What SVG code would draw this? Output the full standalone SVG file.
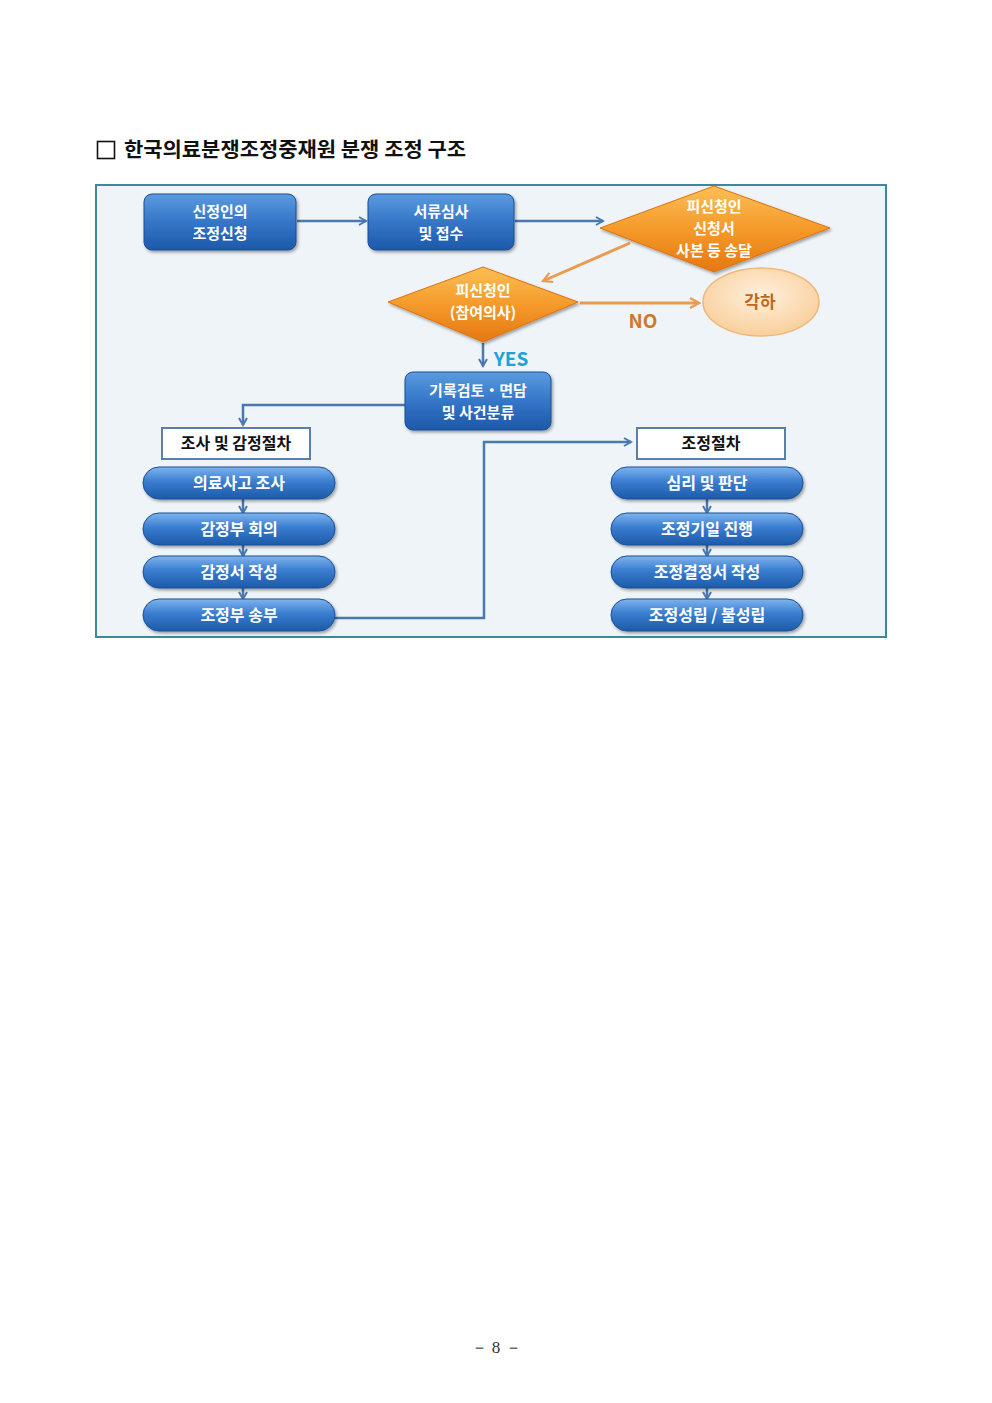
<svg xmlns="http://www.w3.org/2000/svg" width="992" height="1403" viewBox="0 0 992 1403">
<defs>
<linearGradient id="gBox" x1="0" y1="0" x2="0" y2="1">
<stop offset="0" stop-color="#5b9be0"/><stop offset="0.5" stop-color="#3576c8"/><stop offset="1" stop-color="#1d58a8"/>
</linearGradient>
<linearGradient id="gPill" x1="0" y1="0" x2="0" y2="1">
<stop offset="0" stop-color="#7fb4ee"/><stop offset="0.45" stop-color="#3a7dd0"/><stop offset="1" stop-color="#1d5aa8"/>
</linearGradient>
<linearGradient id="gDia" x1="0" y1="0" x2="0" y2="1">
<stop offset="0" stop-color="#fbbf55"/><stop offset="0.5" stop-color="#f59a2a"/><stop offset="1" stop-color="#e57812"/>
</linearGradient>
<radialGradient id="gEll" cx="0.5" cy="0.4" r="0.6">
<stop offset="0" stop-color="#fff0dc"/><stop offset="1" stop-color="#f9cf9c"/>
</radialGradient>
<marker id="aBlue" markerWidth="10" markerHeight="10" refX="8" refY="5" orient="auto" markerUnits="userSpaceOnUse">
<path d="M1,1 L8,5 L1,9" fill="none" stroke="#4a78b0" stroke-width="2"/>
</marker>
<marker id="aOr" markerWidth="12" markerHeight="12" refX="10" refY="6" orient="auto" markerUnits="userSpaceOnUse">
<path d="M1,1 L10,6 L1,11" fill="none" stroke="#eb9a50" stroke-width="2.2"/>
</marker>
<filter id="sh" x="-10%" y="-10%" width="130%" height="140%">
<feDropShadow dx="1.5" dy="2" stdDeviation="1.5" flood-color="#000" flood-opacity="0.35"/>
</filter>
</defs>
<style>
.t{font-family:"Noto Sans CJK KR","Noto Sans",sans-serif;font-weight:bold;text-anchor:middle;}
.w{fill:#fff;font-size:16px;}
.m{fill:#fff;font-size:15px;}
.k{fill:#111;font-size:16px;}
.box{fill:url(#gBox);stroke:#1b4f95;stroke-width:1;filter:url(#sh);}
.pill{fill:url(#gPill);stroke:#1b4f95;stroke-width:1;filter:url(#sh);}
.dia{fill:url(#gDia);stroke:#e07010;stroke-width:1;filter:url(#sh);}
.lbl{fill:#fff;stroke:#5b7fa6;stroke-width:2;}
.cb{fill:none;stroke:#4a78b0;stroke-width:2.5;}
.co{fill:none;stroke:#eb9a50;stroke-width:3;}
</style>
<rect width="992" height="1403" fill="#fff"/>
<g id="title">
<rect x="97.5" y="141.5" width="17" height="17" fill="none" stroke="#111" stroke-width="1.6"/>
<text x="124" y="157" font-family="Noto Sans CJK KR, sans-serif" font-weight="bold" font-size="20" fill="#111" textLength="342" lengthAdjust="spacingAndGlyphs">한국의료분쟁조정중재원 분쟁 조정 구조</text>
</g>
<rect id="frame" x="96" y="185" width="790" height="452" fill="#eef4f8" stroke="#3a8a9a" stroke-width="2"/>
<g id="connectors">
<path class="cb" d="M297,221 H366" marker-end="url(#aBlue)"/>
<path class="cb" d="M515,221 H603" marker-end="url(#aBlue)"/>
<path class="co" d="M630,243 L543,281" marker-end="url(#aOr)"/>
<path class="co" d="M580,303 H699" marker-end="url(#aOr)"/>
<path class="cb" d="M483,343 V366" marker-end="url(#aBlue)"/>
<path class="cb" d="M405,405 H243 V425" marker-end="url(#aBlue)"/>
<path class="cb" d="M243,499 V513" marker-end="url(#aBlue)"/>
<path class="cb" d="M243,545 V556" marker-end="url(#aBlue)"/>
<path class="cb" d="M243,588 V599" marker-end="url(#aBlue)"/>
<path class="cb" d="M335,618 H484 V442 H631" marker-end="url(#aBlue)"/>
<path class="cb" d="M707,499 V513" marker-end="url(#aBlue)"/>
<path class="cb" d="M707,545 V556" marker-end="url(#aBlue)"/>
<path class="cb" d="M707,588 V599" marker-end="url(#aBlue)"/>
<text x="643" y="328" font-family="Noto Sans CJK KR, sans-serif" font-weight="bold" font-size="19" fill="#cc7a2a" text-anchor="middle">NO</text>
<text x="511" y="366" font-family="Noto Sans CJK KR, sans-serif" font-weight="bold" font-size="19" fill="#1ba3d8" text-anchor="middle">YES</text>
</g>
<g id="n1"><rect class="box" x="144" y="194" width="152" height="56" rx="8"/>
<text class="t m" x="220" y="217">신정인의</text><text class="t m" x="220" y="239">조정신청</text></g>
<g id="n2"><rect class="box" x="368" y="194" width="146" height="56" rx="8"/>
<text class="t m" x="441" y="217">서류심사</text><text class="t m" x="441" y="239">및 접수</text></g>
<g id="n3"><polygon class="dia" points="600,228 714,186 830,228 714,272"/>
<text class="t m" x="714" y="212">피신청인</text><text class="t m" x="714" y="234">신청서</text><text class="t m" x="714" y="256">사본 등 송달</text></g>
<g id="n4"><polygon class="dia" points="388,302 483,267 578,302 483,342"/>
<text class="t m" x="483" y="296">피신청인</text><text class="t m" x="483" y="318">(참여의사)</text></g>
<g id="n5"><ellipse cx="761" cy="302" rx="58" ry="34" fill="url(#gEll)" stroke="#f0b878" stroke-width="1.5"/>
<text class="t" x="760" y="308" font-size="17" fill="#c2661c">각하</text></g>
<g id="n6"><rect class="box" x="405" y="372" width="146" height="58" rx="8"/>
<text class="t m" x="478" y="396">기록검토・면담</text><text class="t m" x="478" y="418">및 사건분류</text></g>
<g id="n7"><rect class="lbl" x="162" y="428" width="148" height="31"/>
<text class="t k" x="236" y="449">조사 및 감정절차</text></g>
<g id="n8"><rect class="pill" x="143" y="467" width="192" height="32" rx="16"/><text class="t w" x="239" y="489">의료사고 조사</text></g>
<g id="n9"><rect class="pill" x="143" y="513" width="192" height="32" rx="16"/><text class="t w" x="239" y="535">감정부 회의</text></g>
<g id="n10"><rect class="pill" x="143" y="556" width="192" height="32" rx="16"/><text class="t w" x="239" y="578">감정서 작성</text></g>
<g id="n11"><rect class="pill" x="143" y="599" width="192" height="32" rx="16"/><text class="t w" x="239" y="621">조정부 송부</text></g>
<g id="n12"><rect class="lbl" x="637" y="428" width="148" height="31"/>
<text class="t k" x="711" y="449">조정절차</text></g>
<g id="n13"><rect class="pill" x="611" y="467" width="192" height="32" rx="16"/><text class="t w" x="707" y="489">심리 및 판단</text></g>
<g id="n14"><rect class="pill" x="611" y="513" width="192" height="32" rx="16"/><text class="t w" x="707" y="535">조정기일 진행</text></g>
<g id="n15"><rect class="pill" x="611" y="556" width="192" height="32" rx="16"/><text class="t w" x="707" y="578">조정결정서 작성</text></g>
<g id="n16"><rect class="pill" x="611" y="599" width="192" height="32" rx="16"/><text class="t w" x="707" y="621">조정성립 / 불성립</text></g>
<text x="496" y="1353" font-family="Liberation Serif, serif" font-size="17" fill="#333" text-anchor="middle">－ 8 －</text>
</svg>
